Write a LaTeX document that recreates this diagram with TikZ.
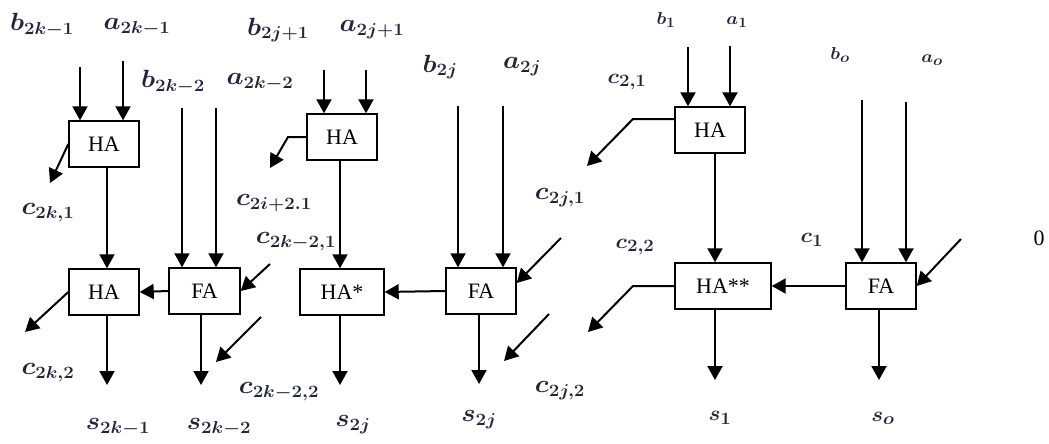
\documentclass[tikz,border=0pt]{standalone}
\usepackage{fontspec}
\usepackage{graphicx}
\setmainfont{Liberation Serif}
\usetikzlibrary{arrows.meta}
\DeclareMathSizes{24}{24}{18}{13}
\DeclareMathSizes{22}{22}{16.5}{12}
\DeclareMathSizes{19}{19}{14.5}{10}
\newcommand\mlab[1]{\scalebox{1.08}[1]{\boldmath$#1$}}
\definecolor{labcol}{RGB}{35,35,60}
\begin{document}
\begin{tikzpicture}[x=1pt,y=-1pt,
  arr/.style={line width=2pt,-{Triangle[length=14pt,width=15pt]}},
  unit/.style={draw,line width=1.4pt,minimum height=46pt,inner sep=0pt,font=\fontsize{22}{25}\selectfont},
  lab/.style={inner sep=0pt,text=labcol,font=\fontsize{24}{28}\selectfont},
  labm/.style={inner sep=0pt,text=labcol,font=\fontsize{22}{25}\selectfont},
  labs/.style={inner sep=0pt,text=labcol,font=\fontsize{19}{22}\selectfont}]
\useasboundingbox (0,0) rectangle (1049,444);
% boxes
\node[unit,minimum width=70pt] (HA1) at (104,144) {HA};
\node[unit,minimum width=70pt] (HA3) at (104,292) {HA};
\node[unit,minimum width=71pt] (FA1) at (204.5,291) {FA};
\node[unit,minimum width=70pt] (HA2) at (342,137) {HA};
\node[unit,minimum width=84pt] (HAs) at (342,292) {HA*};
\node[unit,minimum width=70pt] (FA2) at (481,291) {FA};
\node[unit,minimum width=70pt] (HA4) at (710,130) {HA};
\node[unit,minimum width=96pt] (HAss) at (723,286) {HA**};
\node[unit,minimum width=70pt] (FA3) at (881,286) {FA};
% input start points
\coordinate (i1) at (80,67); \coordinate (i2) at (123,61);
\coordinate (i3) at (182,108); \coordinate (i4) at (216,108);
\coordinate (i5) at (324,70); \coordinate (i6) at (366,70);
\coordinate (i7) at (458,106); \coordinate (i8) at (503,106);
\coordinate (i9) at (688,47); \coordinate (i10) at (730,46);
\coordinate (i11) at (862,100); \coordinate (i12) at (906,102);
\foreach \i/\b in {i1/HA1,i2/HA1,i3/FA1,i4/FA1,i5/HA2,i6/HA2,i7/FA2,i8/FA2,i9/HA4,i10/HA4,i11/FA3,i12/FA3}
  \draw[arr] (\i) -- (\i |- \b.north);
% sum columns
\coordinate (x1) at (107,385); \coordinate (x2) at (201,385);
\coordinate (x3) at (340,385); \coordinate (x4) at (479,384);
\coordinate (x5) at (715,380); \coordinate (x6) at (879,380);
\draw[arr] (HA1.south -| x1) -- (HA3.north -| x1);
\draw[arr] (HA2.south -| x3) -- (HAs.north -| x3);
\draw[arr] (HA4.south -| x5) -- (HAss.north -| x5);
\draw[arr] (HA3.south -| x1) -- (x1);
\draw[arr] (FA1.south -| x2) -- (x2);
\draw[arr] (HAs.south -| x3) -- (x3);
\draw[arr] (FA2.south -| x4) -- (x4);
\draw[arr] (HAss.south -| x5) -- (x5);
\draw[arr] (FA3.south -| x6) -- (x6);
% carry chain
\draw[arr] (FA1.west) -- (HA3.east);
\draw[arr] (FA2.west) -- (HAs.east);
\draw[arr] (FA3.west) -- (HAss.east);
% carry outs
\coordinate (c1) at (50,183); \coordinate (c2) at (270,168);
\coordinate (c3) at (25,332); \coordinate (c4) at (587,166);
\coordinate (c5) at (588,332);
\draw[arr] (HA1.west) -- (c1);
\draw[arr] (HA2.west) -- (288,137) -- (c2);
\draw[arr] (HA3.west) -- (c3);
\draw[arr] ([yshift=11pt]HA4.west) -- (633,119) -- (c4);
\draw[arr] (HAss.west) -- (633,286) -- (c5);
% carry ins
\coordinate (k1) at (270,264); \coordinate (k2) at (561,238); \coordinate (k3) at (961,239);
\draw[arr] (k1) -- (FA1.east);
\draw[arr] (k2) -- ([yshift=8pt]FA2.east);
\draw[arr] (k3) -- (FA3.east);
% free arrows
\coordinate (f1s) at (261,317); \coordinate (f1e) at (216,362);
\coordinate (f2s) at (549,314); \coordinate (f2e) at (504,361);
\draw[arr] (f1s) -- (f1e);
\draw[arr] (f2s) -- (f2e);
% labels
\node[lab] (lb1) at (42,25) {\mlab{b_{2k-1}}};
\node[lab] (la1) at (137,27) {\mlab{a_{2k-1}}};
\node[lab] (lb2) at (173,82) {\mlab{b_{2k-2}}};
\node[lab] (la2) at (260,82) {\mlab{a_{2k-2}}};
\node[lab] (lb3) at (278,30) {\mlab{b_{2j+1}}};
\node[lab] (la3) at (372,30) {\mlab{a_{2j+1}}};
\node[lab] (lb4) at (440,67) {\mlab{b_{2j}}};
\node[lab] (la4) at (522,67) {\mlab{a_{2j}}};
\node[labs] (lb5) at (666,20) {\mlab{b_1}};
\node[labs] (la5) at (737,22) {\mlab{a_1}};
\node[labs] (lb6) at (840,55) {\mlab{b_o}};
\node[labs] (la6) at (932,60) {\mlab{a_o}};
\node[lab] (lc1) at (48,213) {\mlab{c_{2k,1}}};
\node[lab] (lc2) at (274,203) {\mlab{c_{2i+2.1}}};
\node[lab] (lc3) at (560,198) {\mlab{c_{2j,1}}};
\node[labm] (lc4) at (627,82) {\mlab{c_{2,1}}};
\node[lab] (lc5) at (296,242) {\mlab{c_{2k-2,1}}};
\node[labm] (lc6) at (635,247) {\mlab{c_{2,2}}};
\node[labm] (lc7) at (812,240) {\mlab{c_1}};
\node[inner sep=0pt,font=\fontsize{22}{25}\selectfont] (zero) at (1039,238) {0};
\node[lab] (lc8) at (48,373) {\mlab{c_{2k,2}}};
\node[lab] (lc9) at (279,392) {\mlab{c_{2k-2,2}}};
\node[lab] (lc10) at (560,391) {\mlab{c_{2j,2}}};
\node[lab] (ls1) at (118,427) {\mlab{s_{2k-1}}};
\node[lab] (ls2) at (219,427) {\mlab{s_{2k-2}}};
\node[lab] (ls3) at (353,425) {\mlab{s_{2j}}};
\node[lab] (ls4) at (479,420) {\mlab{s_{2j}}};
\node[labm] (ls5) at (720,418) {\mlab{s_1}};
\node[labm] (ls6) at (883,418) {\mlab{s_o}};
\end{tikzpicture}
\end{document}
